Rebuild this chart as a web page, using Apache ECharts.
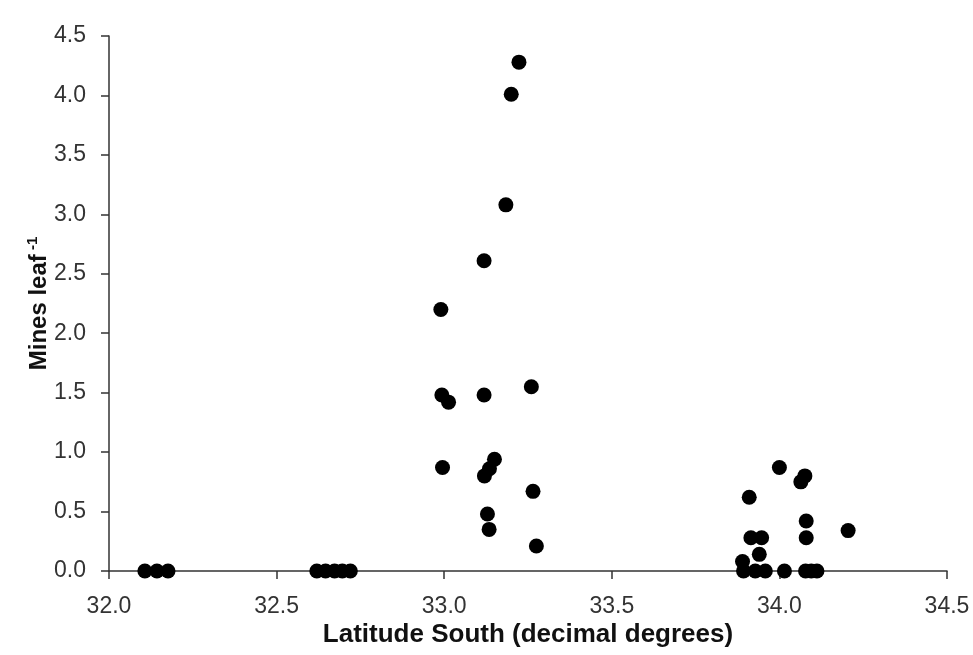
<!DOCTYPE html>
<html>
<head>
<meta charset="utf-8">
<script src="https://cdn.jsdelivr.net/npm/echarts@6/dist/echarts.min.js"></script>
<style>
  html, body { margin: 0; padding: 0; background: #fff; }
  #chart { width: 973px; height: 655px; }
</style>
</head>
<body>
<div id="chart"></div>
<script>
// latitude (decimal degrees south) and mines per leaf
var latitude = [
    32.107, 32.143, 32.176,
    32.620, 32.646, 32.673, 32.696, 32.720,
    33.223, 33.200, 33.184, 33.119, 32.990,
    32.993, 33.013, 33.119, 33.260,
    32.995, 33.120, 33.135, 33.150, 33.265,
    33.129, 33.134, 33.275,
    34.000, 34.076, 34.064, 33.910, 34.080, 34.205, 34.080,
    33.915, 33.947, 33.940, 33.890,
    33.893, 33.928, 33.958, 34.015, 34.078, 34.095, 34.112
];
var minesPerLeaf = [
    0, 0, 0,
    0, 0, 0, 0, 0,
    4.28, 4.01, 3.08, 2.61, 2.20,
    1.48, 1.42, 1.48, 1.55,
    0.87, 0.80, 0.86, 0.94, 0.67,
    0.48, 0.35, 0.21,
    0.87, 0.80, 0.75, 0.62, 0.42, 0.34, 0.28,
    0.28, 0.28, 0.14, 0.08,
    0, 0, 0, 0, 0, 0, 0
];
var tickDigits = 1;

var points = latitude.map(function (x, i) { return [x, minesPerLeaf[i]]; });

var chart = echarts.init(document.getElementById('chart'));

var labelFont = 'Liberation Sans';

var option = {
    backgroundColor: '#fff',
    animation: false,
    grid: {
        left: 109,
        right: 26,
        top: 36,
        bottom: 84
    },
    xAxis: {
        type: 'value',
        min: 32.0,
        max: 34.5,
        interval: 0.5,
        name: 'Latitude South (decimal degrees)',
        nameLocation: 'middle',
        nameGap: 51,
        nameMoveOverlap: false,
        nameTextStyle: {
            fontFamily: labelFont,
            fontSize: 26,
            fontWeight: 'bold',
            color: '#111'
        },
        axisLine: { show: true, lineStyle: { color: '#333', width: 1.5 } },
        axisTick: { show: true, inside: false, length: 8, lineStyle: { color: '#333', width: 1.5 } },
        axisLabel: {
            fontFamily: labelFont,
            fontSize: 23,
            color: '#333',
            margin: 24,
            formatter: function (v) { return v.toFixed(tickDigits); }
        },
        splitLine: { show: false }
    },
    yAxis: {
        type: 'value',
        min: 0,
        max: 4.5,
        interval: 0.5,
        name: '{a|Mines leaf}{b| -1}',
        nameLocation: 'middle',
        nameGap: 58,
        nameMoveOverlap: false,
        nameRotate: 90,
        nameTextStyle: {
            rich: {
                a: {
                    fontFamily: labelFont,
                    fontSize: 24,
                    fontWeight: 'bold',
                    color: '#111',
                    lineHeight: 26,
                    verticalAlign: 'bottom'
                },
                b: {
                    fontFamily: labelFont,
                    fontSize: 15,
                    fontWeight: 'bold',
                    color: '#111',
                    lineHeight: 26,
                    verticalAlign: 'top'
                }
            }
        },
        axisLine: { show: true, lineStyle: { color: '#333', width: 1.5 } },
        axisTick: { show: true, inside: false, length: 8, lineStyle: { color: '#333', width: 1.5 } },
        axisLabel: {
            fontFamily: labelFont,
            fontSize: 23,
            color: '#333',
            margin: 23,
            formatter: function (v) { return v.toFixed(tickDigits); }
        },
        splitLine: { show: false }
    },
    series: [
        {
            type: 'scatter',
            symbol: 'circle',
            symbolSize: 15,
            itemStyle: { color: '#000', opacity: 1 },
            data: points
        }
    ]
};

chart.setOption(option);
</script>
</body>
</html>
